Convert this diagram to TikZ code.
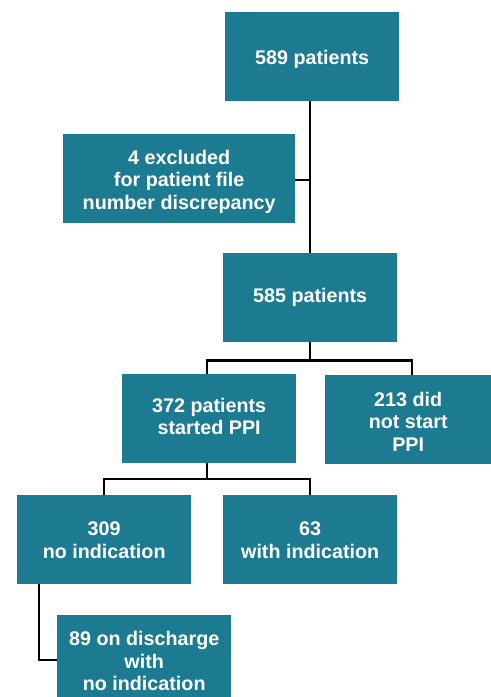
\documentclass[tikz,border=0pt]{standalone}
\usepackage{fontspec}
\setmainfont{Liberation Sans}
\definecolor{teal1}{HTML}{1C7A91}
\begin{document}
\begin{tikzpicture}[x=1bp,y=-1bp,
  box/.style={fill=teal1, draw=none, inner sep=0pt, anchor=north west},
  lbl/.style={text=white, inner sep=0pt, font=\bfseries\fontsize{19.8}{22.5}\selectfont, align=center},
  conn/.style={line width=2.3bp, black}]
\useasboundingbox (0,0) rectangle (491,697);
\node[box, minimum width=174bp, minimum height=89bp] (b1) at (225,12) {};
\node[box, minimum width=232bp, minimum height=89bp] (b2) at (63,134) {};
\node[box, minimum width=174bp, minimum height=89bp] (b3) at (223,253) {};
\node[box, minimum width=174bp, minimum height=89bp] (b4) at (122,374) {};
\node[box, minimum width=166bp, minimum height=89bp] (b5) at (325,375) {};
\node[box, minimum width=174bp, minimum height=89bp] (b6) at (17,495) {};
\node[box, minimum width=174bp, minimum height=89bp] (b7) at (223,495) {};
\node[box, minimum width=174bp, minimum height=82bp] (b8) at (57,615) {};
\node[lbl] (t1) at ([yshift=-3bp]b1.center) {589 patients};
\node[lbl] (t2) at ([yshift=-3bp]b2.center) {4 excluded\\for patient file\\number discrepancy};
\node[lbl] (t3) at ([yshift=0bp]b3.center) {585 patients};
\node[lbl] (t4) at ([yshift=2bp]b4.center) {372 patients\\started PPI};
\node[lbl] (t5) at ([yshift=-2bp]b5.center) {213 did\\not start\\PPI};
\node[lbl] (t6) at ([yshift=-0.5bp]b6.center) {309\\no indication};
\node[lbl] (t7) at ([yshift=-0.5bp]b7.center) {63\\with indication};
\node[lbl] (t8) at ([yshift=-5bp]b8.center) {89 on discharge\\with\\no indication};
\coordinate (j1) at (310,180);
\coordinate (s1) at (310,360.5);
\coordinate (s2) at (207,479);
\coordinate (c8) at (39,660);
\draw[conn] (b1.south -| j1) -- (b3.north -| j1);
\draw[conn] (b2.east |- j1) -- (j1);
\draw[conn] (b3.south -| s1) -- (s1);
\draw[conn] (b4.north -| s2) |- (s1) -| (412,375);
\draw[conn] (b4.south -| s2) -- (s2);
\draw[conn] (104,495) |- (s2) -| (310,495);
\draw[conn] (b6.south -| c8) |- (b8.west |- c8);
\end{tikzpicture}
\end{document}
